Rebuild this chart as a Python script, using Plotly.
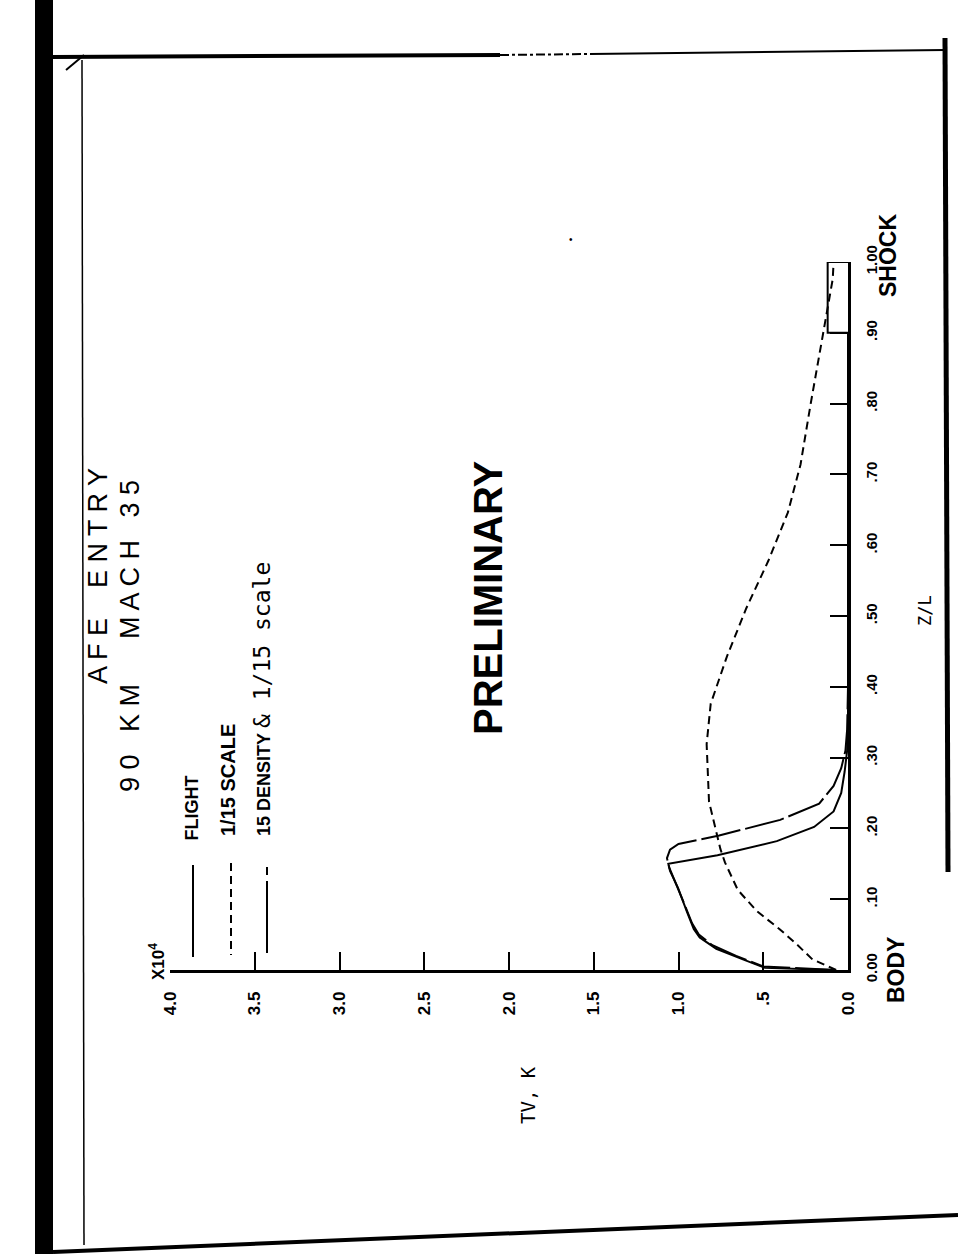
import plotly.graph_objects as go

# ---------------- data (TV in units of 1e4 K, Z/L from body to shock) ----------------
flight_z = [0.0, 0.003, 0.015, 0.030, 0.046, 0.058, 0.082, 0.116, 0.140, 0.150, 0.162, 0.182,
            0.202, 0.224, 0.250, 0.280, 0.310, 0.350, 0.900, 0.900, 1.000, 1.000]
flight_tv = [0.076, 0.49, 0.62, 0.777, 0.875, 0.91, 0.95, 1.003, 1.05, 1.06, 0.77, 0.42,
             0.20, 0.085, 0.04, 0.02, 0.005, 0.0, 0.0, 0.12, 0.12, 0.0]

scale_z = [0.0, 0.015, 0.038, 0.058, 0.083, 0.113, 0.152, 0.171, 0.238, 0.319, 0.376, 0.443,
           0.511, 0.578, 0.646, 0.714, 0.800, 0.894, 0.976, 1.000]
scale_tv = [0.07, 0.21, 0.31, 0.405, 0.537, 0.65, 0.726, 0.753, 0.82, 0.834, 0.81, 0.714,
            0.60, 0.47, 0.355, 0.28, 0.22, 0.15, 0.09, 0.085]

dens_z = [0.0, 0.005, 0.020, 0.035, 0.050, 0.066, 0.090, 0.120, 0.145, 0.158, 0.170, 0.178,
          0.190, 0.212, 0.235, 0.260, 0.285, 0.310, 0.340, 0.400]
dens_tv = [0.076, 0.50, 0.66, 0.80, 0.88, 0.92, 0.96, 1.01, 1.055, 1.068, 1.05, 1.00,
           0.76, 0.40, 0.17, 0.085, 0.04, 0.015, 0.005, 0.0]

tv_ticks = [0.0, 0.5, 1.0, 1.5, 2.0, 2.5, 3.0, 3.5, 4.0]
tv_labels = ["0.0", ".5", "1.0", "1.5", "2.0", "2.5", "3.0", "3.5", "4.0"]
zl_ticks = [0.0, 0.1, 0.2, 0.3, 0.4, 0.5, 0.6, 0.7, 0.8, 0.9, 1.0]
zl_labels = ["0.00", ".10", ".20", ".30", ".40", ".50", ".60", ".70", ".80", ".90", "1.00"]

legend_names = ["FLIGHT", "1/15 SCALE", "15 DENSITY & 1/15 scale"]

# ---------------- layout geometry ----------------
W, H = 958, 1254
L, R, T, B = 170, 110, 262, 284
PW, PH = W - L - R, H - T - B


def px(x):
    return (x - L) / PW


def py(y):
    return (H - B - y) / PH


FONT = "Liberation Sans"
MONO = "DejaVu Sans Mono"

fig = go.Figure()
fig.add_trace(go.Scatter(x=flight_tv, y=flight_z, mode="lines", name=legend_names[0],
                         line=dict(color="black", width=2), showlegend=False))
fig.add_trace(go.Scatter(x=scale_tv, y=scale_z, mode="lines", name=legend_names[1],
                         line=dict(color="black", width=2, dash="8px,5px"), showlegend=False))
fig.add_trace(go.Scatter(x=dens_tv, y=dens_z, mode="lines", name=legend_names[2],
                         line=dict(color="black", width=2, dash="40px,5px"), showlegend=False))

fig.update_xaxes(range=[4.0, 0.0], tickvals=tv_ticks, ticktext=tv_labels, tickangle=-90,
                 ticks="inside", ticklen=18, tickwidth=2, tickcolor="black",
                 showline=True, linecolor="black", linewidth=2.5, showgrid=False, zeroline=False,
                 tickfont=dict(family=FONT, size=17, color="black", weight="bold"),
                 ticklabelstandoff=12)
fig.update_yaxes(range=[0.0, 1.0], side="right", tickvals=zl_ticks, ticktext=zl_labels,
                 tickangle=-90, ticks="inside", ticklen=18, tickwidth=2, tickcolor="black",
                 showline=True, linecolor="black", linewidth=2.5, showgrid=False, zeroline=False,
                 tickfont=dict(family=FONT, size=15, color="black", weight="bold"),
                 ticklabelstandoff=8)

ann = []


def text(x, y, s, size, bold=False, xanchor="center", yanchor="middle", family=FONT):
    ann.append(dict(x=px(x), y=py(y), xref="paper", yref="paper", text=s, showarrow=False,
                    textangle=-90, xanchor=xanchor, yanchor=yanchor,
                    font=dict(family=family, size=size, color="black",
                              weight="bold" if bold else "normal")))


text(98, 576, "A F E    E N T R Y", 27)
text(130, 636, "9 0   K M      M A C H   3 5", 27)
text(488, 598, "PRELIMINARY", 40, bold=True)
text(191, 843, legend_names[0], 18, bold=True, yanchor="bottom")
text(228, 838, legend_names[1], 20, bold=True, yanchor="bottom")
dens_parts = legend_names[2].split(" & ")
text(262, 838, "<b>" + dens_parts[0] + "</b> <span style=\"font-family:'DejaVu Sans Mono';"
     "font-size:23px\">&amp; " + dens_parts[1] + "</span>", 18, yanchor="bottom")
text(157, 962, "X10<sup>4</sup>", 17, bold=True)
text(896, 970, "BODY", 23, bold=True)
text(888, 256, "SHOCK", 23, bold=True)
text(925, 611, "Z/L", 17, family=MONO)
text(528, 1095, "TV, K", 19, family=MONO)
ann.append(dict(x=px(571), y=py(232), xref="paper", yref="paper", text="•", showarrow=False,
                font=dict(family=FONT, size=10, color="black")))

shapes = []


def line(x0, y0, x1, y1, w, dash="solid"):
    shapes.append(dict(type="line", xref="paper", yref="paper", x0=px(x0), y0=py(y0),
                       x1=px(x1), y1=py(y1), line=dict(color="black", width=w, dash=dash)))


# legend sample lines
line(193, 865, 193, 957, 2)
line(231, 863, 231, 955, 2, dash="8px,5px")
line(267, 867, 267, 953, 2, dash="8px,6px,80px")

# page frame of the scanned sheet
shapes.append(dict(type="rect", xref="paper", yref="paper", x0=px(35), x1=px(53), y0=py(0),
                   y1=py(H), fillcolor="black", line=dict(width=0)))
line(82, 60, 84, 1245, 1.5)
line(53, 57, 500, 55, 4)
line(500, 55, 590, 54, 2, dash="dashdot")
line(590, 54, 945, 50, 2)
line(945, 38, 948, 872, 5)
line(53, 1252, 958, 1215, 4)
line(66, 70, 84, 55, 2)

fig.update_layout(width=W, height=H, autosize=False,
                  margin=dict(l=L, r=R, t=T, b=B, pad=0),
                  paper_bgcolor="white", plot_bgcolor="white",
                  annotations=ann, shapes=shapes, showlegend=False)

fig.write_html("out.html", config={"displayModeBar": False},
               post_script="document.body.style.margin='0';document.body.style.overflow='hidden';")
